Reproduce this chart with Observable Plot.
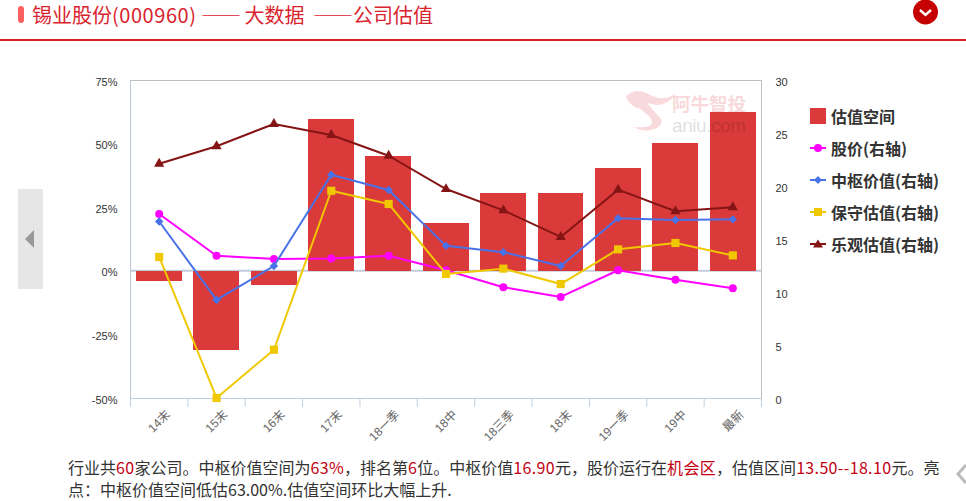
<!DOCTYPE html>
<html lang="zh-CN">
<head>
<meta charset="utf-8">
<script src="https://cdn.jsdelivr.net/npm/d3@7"></script>
<script src="https://cdn.jsdelivr.net/npm/@observablehq/plot@0.6"></script>
<style>
html,body{margin:0;padding:0;width:966px;height:501px;overflow:hidden;background:#fff;font-family:"Noto Sans CJK SC","Noto Sans",sans-serif;}
.abs{position:absolute;}
#title{left:32px;top:0;font-size:20px;line-height:30px;color:#d9232e;white-space:pre;font-family:"Noto Sans CJK SC",sans-serif;}
#title .code{letter-spacing:.55px;}
#title .dash{letter-spacing:3.5px;}
#title .gap{word-spacing:4px;}
#bullet{left:18px;top:6px;width:6px;height:17px;border-radius:3px;background:#ff6161;}
#rule{left:0;top:39px;width:966px;height:2px;background:#d7212a;}
#pager{left:18px;top:189px;width:25px;height:100px;background:#e6e6e6;}
#legend{left:810px;top:100px;}
.row{height:32px;line-height:32px;display:flex;align-items:center;font-size:16px;font-weight:600;color:#333;white-space:pre;}
.row svg{margin-right:5px;flex:none;}
.note{left:68px;font-size:16px;line-height:20px;height:20px;color:#333;white-space:pre;}
.note b{font-weight:400;color:#c40012;letter-spacing:.35px;}
#plot{left:0;top:0;}
</style>
</head>
<body>
<div class="abs" id="plot"></div>
<div class="abs" id="bullet"></div>
<div class="abs" id="title"></div>
<div class="abs" id="rule"></div>
<svg class="abs" style="left:912px;top:0" width="28" height="26" viewBox="0 0 28 26"><circle cx="13.5" cy="12" r="12.5" fill="#c40000"/><path d="M8 10l5.5 5l5.5-5" fill="none" stroke="#fff" stroke-width="2.4"/></svg>
<div class="abs" id="pager"><svg width="25" height="100"><path d="M16 41v18l-9-9z" fill="#999"/></svg></div>
<svg class="abs" style="left:956px;top:462px" width="10" height="24"><path d="M10 3l-8 9l8 9" fill="none" stroke="#bbb" stroke-width="3"/></svg>
<svg class="abs" style="left:624px;top:88px" width="135" height="50">
<path d="M2 9c6-8 16-7 24-2c8 4 18 5 26-2c-4 8-12 12-20 12l-9-2l14 16c2 5-2 9-10 11c-6 1-13 0-17-3c8 1 17 0 18-4c1-5-8-11-13-15c-3 1-10-4-13-11z" fill="#d9232e" opacity=".17"/>
<text x="48" y="23" font-size="18.5" font-weight="700" fill="#d9232e" opacity=".17" font-family="Noto Sans CJK SC">阿牛智投</text>
<text x="48" y="44" font-size="19" fill="#000" opacity=".12" font-family="Liberation Sans" textLength="74">aniu.com</text>
</svg>
<div class="abs" id="legend"></div>
<div class="abs note" id="note1" style="top:457px"></div>
<div class="abs note" id="note2" style="top:479px"></div>
<script>
const categories = ["14末","15末","16末","17末","18一季","18中","18三季","18末","19一季","19中","最新"];
const space  = [-4.2,-31.3,-5.4,59.5,45.3,18.6,30.4,30.4,40.6,50.4,62.6];
const price  = [17.4,13.47,13.16,13.2,13.47,12.1,10.5,9.58,12.1,11.2,10.4];
const middle = [16.7,9.3,12.5,21.1,19.67,14.4,13.8,12.5,17.0,16.84,16.9];
const low    = [13.35,0.05,4.6,19.6,18.35,11.75,12.25,10.8,14.07,14.67,13.5];
const high   = [22.15,23.8,25.9,24.86,22.9,19.76,17.75,15.24,19.7,17.66,18.04];
const leftTicks  = [-50,-25,0,25,50,75];
const rightTicks = [0,5,10,15,20,25,30];
const legendNames = ["估值空间","股价(右轴)","中枢价值(右轴)","保守估值(右轴)","乐观估值(右轴)"];
const colors = {space:"#da3a3a",price:"#ff00ff",middle:"#4a72e8",low:"#f0c800",high:"#851414"};

const toLeft = v => v / 30 * 125 - 50;
const toRight = p => (p + 50) * 30 / 125;
const slots = categories.map((c, i) => i + 0.5);
const edges = d3.range(categories.length + 1);
const rows = categories.map((c, i) => ({c, i, x: i + 0.5, space: space[i], price: toLeft(price[i]), middle: toLeft(middle[i]), low: toLeft(low[i]), high: toLeft(high[i])}));

const series = (key, symbol, r) => [
  Plot.line(rows, {x: "x", y: key, stroke: colors[key], strokeWidth: 2}),
  Plot.dot(rows, {x: "x", y: key, fill: colors[key], symbol, r})
];

const chart = Plot.plot({
  width: 966, height: 440,
  marginLeft: 130, marginRight: 205, marginTop: 80, marginBottom: 42,
  style: {background: "transparent", overflow: "visible"},
  x: {type: "linear", domain: [0, categories.length]},
  y: {domain: [-50, 75]},
  marks: [
    Plot.ruleY([75], {stroke: "#c0c0c0"}),
    Plot.ruleX([categories.length], {stroke: "#c0c0c0"}),
    Plot.ruleX([0], {stroke: "#bcc8d8"}),
    Plot.ruleY([-50], {stroke: "#c0d0e0"}),
    Plot.ruleY([0], {stroke: "#c0ccdc", strokeWidth: 2, dy: -0.5}),
    Plot.rectY(rows, {x1: d => d.i + 0.1, x2: d => d.i + 0.9, y1: 0, y2: "space", fill: colors.space, dx: 0.3, shapeRendering: "crispEdges"}),
    ...series("price", "circle", 4),
    ...series("middle", "diamond2", 3.8),
    ...series("low", "square", 4.6),
    ...series("high", "triangle", 3.8),
    Plot.axisX(edges, {tickSize: 9, stroke: "#c0d0e0", tickFormat: () => "", label: null}),
    Plot.axisX(slots, {tickSize: 0, tickPadding: 10, tickRotate: -45, tickFormat: d => categories[d - 0.5], label: null, fill: "#666", fontSize: 12, fontFamily: "Liberation Sans, Noto Sans CJK SC, sans-serif", dx: 9, dy: 4}),
    Plot.axisY(leftTicks, {anchor: "left", tickSize: 0, tickPadding: 13, tickFormat: d => d + "%", label: null, fill: "#333", fontSize: 11, fontFamily: "Liberation Sans, sans-serif", dy: 1.5}),
    Plot.axisY(rightTicks.map(toLeft), {anchor: "right", tickSize: 0, tickPadding: 14, tickFormat: d => String(Math.round(toRight(d))), label: null, fill: "#333", fontSize: 11, fontFamily: "Liberation Sans, sans-serif", dy: 1.5})
  ]
});
document.getElementById("plot").append(chart);

document.getElementById("title").innerHTML = '锡业股份<span class="code">(000960)</span> <span class="dash">——</span>大数据<span class="gap"> </span>——公司估值';

const swatches = [
  `<rect x="0" y="0" width="16" height="16" fill="${colors.space}"/>`,
  `<path d="M0 8h16" stroke="${colors.price}" stroke-width="2"/><circle cx="8" cy="8" r="4" fill="${colors.price}"/>`,
  `<path d="M0 8h16" stroke="${colors.middle}" stroke-width="2"/><path d="M8 4l4 4l-4 4l-4-4z" fill="${colors.middle}"/>`,
  `<path d="M0 8h16" stroke="${colors.low}" stroke-width="2"/><rect x="4" y="4" width="8" height="8" fill="${colors.low}"/>`,
  `<path d="M0 8h16" stroke="${colors.high}" stroke-width="2"/><path d="M8 3.5l5 8h-10z" fill="${colors.high}"/>`
];
document.getElementById("legend").innerHTML = legendNames.map((n, i) =>
  `<div class="row"><svg width="16" height="16">${swatches[i]}</svg>${n}</div>`).join("");

document.getElementById("note1").innerHTML =
  "行业共<b>60</b>家公司。中枢价值空间为<b>63%</b>，排名第<b>6</b>位。中枢价值<b>16.90</b>元，股价运行在<b>机会区</b>，估值区间<b>13.50--18.10</b>元。亮";
document.getElementById("note2").textContent = "点：中枢价值空间低估63.00%.估值空间环比大幅上升.";
</script>
</body>
</html>
